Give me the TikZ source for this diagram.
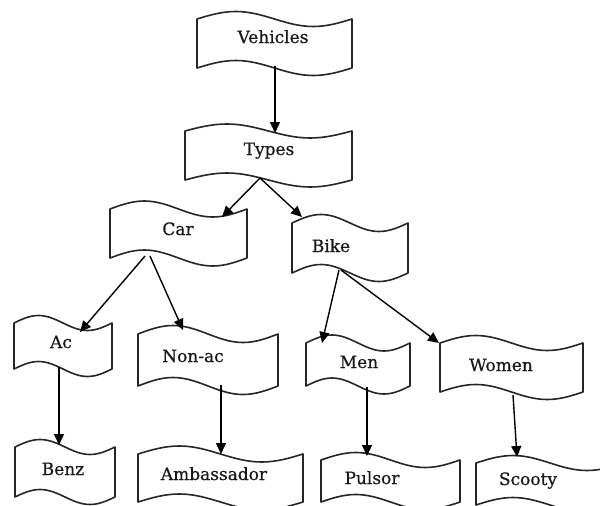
\documentclass[tikz,border=0pt]{standalone}
\usepackage{fontspec}
\setmainfont{DejaVu Serif}
\newfontfamily\lblfont[FakeBold=0.6]{DejaVu Serif}
\usetikzlibrary{arrows.meta}
\newcommand\tapebox[6]{% name, L, R, T, B, a
  \pgfmathsetmacro\tqW{(#3-#2)/4}
  \draw[tapeline] (#2,#4) coordinate (#1-tl)
    sin ++(\tqW,-#6) cos ++(\tqW,#6) sin ++(\tqW,#6) cos ++(\tqW,-#6)
    -- (#3,#5)
    sin ++(-\tqW,#6) cos ++(-\tqW,-#6) sin ++(-\tqW,-#6) cos ++(-\tqW,#6)
    -- cycle;
}
\tikzset{
  tapeline/.style={draw=black!85, line width=1.6pt, fill=white, line join=round},
  conn/.style={draw=black, line width=1.4pt, -{Triangle[length=11pt,width=10pt]}},
  lbl/.style={anchor=base, inner sep=0pt, font=\lblfont\fontsize{17}{20}\selectfont, text=black!90}
}
\begin{document}
\begin{tikzpicture}[x=1pt,y=-1pt]
\useasboundingbox (0,0) rectangle (600,506);
\clip (0,0) rectangle (600,506);
% boxes
\tapebox{veh}{197}{352}{19}{68}{7.5}
\tapebox{typ}{185}{352}{131}{180}{7}
\tapebox{car}{110}{247}{209}{258}{8}
\tapebox{bik}{292}{408}{223}{273}{8.5}
\tapebox{ac}{14}{112}{323}{369}{7.5}
\tapebox{non}{138}{278}{334}{386}{8.5}
\tapebox{men}{306}{410}{343}{386}{8}
\tapebox{wom}{440}{583}{343}{392}{7.5}
\tapebox{ben}{15}{115}{447}{497}{7.5}
\tapebox{amb}{138}{303}{454}{502}{8}
\tapebox{pul}{321}{460}{460}{502}{7.5}
\tapebox{sco}{476}{624}{463}{505}{7.5}
% labels
\node[lbl] (tveh) at (273,43) {Vehicles};
\node[lbl] (ttyp) at (269,155) {Types};
\node[lbl] (tcar) at (178,235) {Car};
\node[lbl] (tbik) at (331,252) {Bike};
\node[lbl] (tac)  at (61,348) {Ac};
\node[lbl] (tnon) at (193,362) {Non-ac};
\node[lbl] (tmen) at (359,368) {Men};
\node[lbl] (twom) at (501,371) {Women};
\node[lbl] (tben) at (63,475) {Benz};
\node[lbl] (tamb) at (214,480) {Ambassador};
\node[lbl] (tpul) at (372,484) {Pulsor};
\node[lbl] (tsco) at (528,485) {Scooty};
% connector end points
\coordinate (veh-o) at (275,66);
\coordinate (typ-i) at (275,133);
\coordinate (typ-o) at (260,178);
\coordinate (car-i) at (222,217);
\coordinate (bik-i) at (302,217);
\coordinate (car-o1) at (145,256);
\coordinate (car-o2) at (150,256);
\coordinate (ac-i) at (80,332);
\coordinate (non-i) at (183,330);
\coordinate (bik-o1) at (339,270);
\coordinate (bik-o2) at (341,270);
\coordinate (men-i) at (322,343);
\coordinate (wom-i) at (439,343);
\coordinate (ac-o) at (59,367);
\coordinate (ben-i) at (59,445);
\coordinate (non-o) at (221,385);
\coordinate (amb-i) at (221,454);
\coordinate (men-o) at (367,387);
\coordinate (pul-i) at (367,456);
\coordinate (wom-o) at (513,395);
\coordinate (sco-i) at (517,457);
% connectors
\draw[conn] (veh-o) -- (typ-i);
\draw[conn] (typ-o) -- (car-i);
\draw[conn] (typ-o) -- (bik-i);
\draw[conn] (car-o1) -- (ac-i);
\draw[conn] (car-o2) -- (non-i);
\draw[conn] (bik-o1) -- (men-i);
\draw[conn] (bik-o2) -- (wom-i);
\draw[conn] (ac-o) -- (ben-i);
\draw[conn] (non-o) -- (amb-i);
\draw[conn] (men-o) -- (pul-i);
\draw[conn] (wom-o) -- (sco-i);
\end{tikzpicture}
\end{document}
